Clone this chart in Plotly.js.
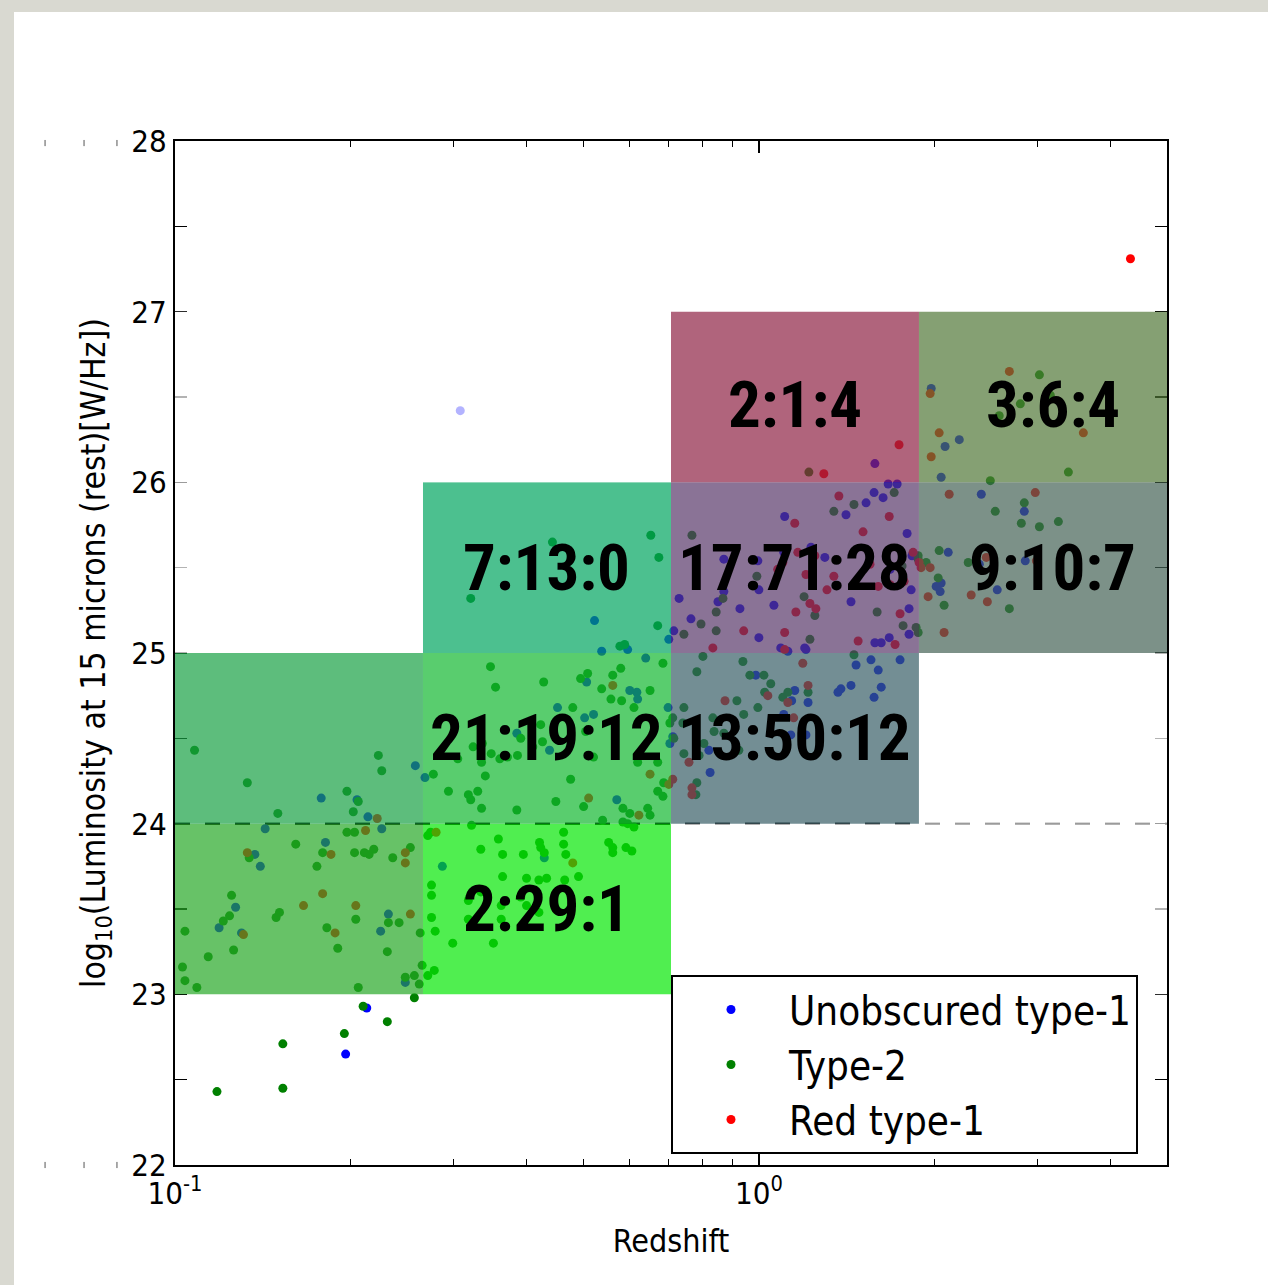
<!DOCTYPE html>
<html>
<head>
<meta charset="utf-8">
<script src="https://cdn.plot.ly/plotly-3.0.1.min.js"></script>
<style>
  html, body { margin: 0; padding: 0; background: #d9d9d1; width: 1268px; height: 1285px; overflow: hidden; }
  #chart { position: absolute; left: 14px; top: 12px; width: 1254px; height: 1273px; background: #fff; }
</style>
</head>
<body>
<div id="chart"></div>
<script>
// ---------------- data ----------------
const zUnobscured = [0.178,0.205,0.214,0.258,0.268,0.1427,0.226,0.181,0.137,0.140,0.127,0.119,0.130,0.232,0.225,0.248,0.213,0.196,
  0.523,0.701,0.596,0.538,0.640,0.507,0.601,0.618,0.620,0.699,0.452,0.503,0.521,0.385,0.438,0.571,0.704,0.429,0.287,0.308,
  1.580,1.665,1.725,1.575,1.632,1.526,1.410,1.794,1.107,1.228,1.297,1.103,0.996,1.000,0.871,1.678,1.829,1.823,0.871,0.851,0.730,
  0.928,1.061,1.438,1.808,0.765,0.715,1.000,1.198,1.090,1.121,1.204,1.580,1.620,1.672,1.808,
  0.988,1.467,1.556,1.745,1.601,1.620,1.438,1.382,1.366,1.575,1.152,1.138,1.214,1.103,1.134,1.204,0.821,0.712,0.825,
  1.973,2.204,2.084,2.052,2.404,2.848,2.110,2.385,2.859,2.012,2.052,2.044,2.560];
const lumUnobscured = [24.15,24.14,24.04,24.34,24.27,23.97,23.97,23.89,23.82,23.75,23.51,23.39,23.36,23.47,23.37,23.07,22.92,22.65,
  25.19,25.08,25.02,25.01,24.97,24.83,24.78,24.77,24.73,24.68,24.68,24.62,24.64,24.53,24.43,24.14,24.47,23.80,23.75,26.42,
  26.11,25.99,25.99,25.94,25.91,25.88,25.81,25.70,25.80,25.62,25.56,25.59,25.54,25.37,25.55,25.49,25.57,25.37,25.36,25.30,25.32,
  25.26,25.28,25.30,25.26,25.20,25.13,25.09,25.03,25.03,25.01,25.02,25.06,25.06,25.09,25.11,
  24.87,24.93,24.96,24.96,24.90,24.80,24.81,24.79,24.77,24.74,24.78,24.72,24.71,24.64,24.52,24.52,24.43,24.51,24.30,
  26.55,26.25,26.21,26.03,25.93,25.83,25.59,25.52,25.54,25.39,25.41,25.36,25.37];

const zType2 = [0.108,0.133,0.150,0.197,0.206,0.202,0.223,0.226,0.197,0.203,0.134,0.161,0.179,0.175,0.203,0.211,0.215,0.219,0.236,0.253,
  0.125,0.124,0.121,0.104,0.151,0.149,0.182,0.204,0.190,0.232,0.242,0.231,0.263,0.114,0.126,0.103,0.104,0.109,0.206,0.248,0.257,0.262,0.265,0.257,
  0.210,0.231,0.195,0.153,0.118,0.153,
  0.653,0.674,0.443,0.321,0.671,0.578,0.589,
  0.347,0.354,0.428,0.495,0.509,0.562,0.580,0.538,0.558,0.582,0.651,0.611,0.685,0.480,0.505,0.391,0.423,0.410,0.426,0.324,0.336,0.348,0.360,0.371,0.386,
  0.305,0.335,0.340,0.277,0.294,0.318,0.321,0.330,0.335,0.385,0.449,0.476,0.501,0.585,0.601,0.645,0.651,0.671,0.685,0.687,0.671,0.620,0.521,0.704,
  0.540,0.585,0.596,0.611,0.322,
  0.271,0.274,0.358,0.334,0.364,0.395,0.421,0.423,0.429,0.463,0.463,0.467,0.553,0.562,0.562,0.592,0.606,0.491,0.364,0.400,0.420,0.433,0.465,
  0.334,0.318,0.362,0.391,0.400,0.420,0.362,0.318,0.275,0.275,0.275,0.279,0.299,0.351,0.271,0.278,
  1.218,1.705,1.455,1.344,0.768,0.992,1.759,1.874,0.868,0.845,1.195,1.247,1.594,0.796,0.845,0.744,1.223,1.766,1.859,
  0.802,0.939,0.783,0.965,1.020,1.048,1.455,1.214,1.121,1.099,1.023,0.917,0.996,0.942,0.834,0.744,0.712,0.741,0.838,0.871,0.924,0.805,0.744,0.790,0.715,0.783,0.780,
  3.023,3.156,2.804,2.580,3.389,2.491,2.848,2.540,2.815,3.023,3.258,2.036,1.874,1.934,2.283,2.028,2.076,2.685,1.874];
const lumType2 = [24.43,24.24,24.06,24.19,24.13,24.07,24.40,24.31,23.95,23.95,23.80,23.88,23.83,23.75,23.83,23.83,23.82,23.85,23.80,23.86,
  23.58,23.46,23.43,23.37,23.48,23.45,23.39,23.44,23.27,23.42,23.42,23.25,23.36,23.22,23.26,23.16,23.08,23.04,23.04,23.10,23.11,23.06,23.17,22.98,
  22.93,22.84,22.77,22.71,22.43,22.45,
  25.69,25.56,25.65,25.32,25.16,25.04,25.05,
  24.92,24.80,24.83,24.85,24.88,24.87,24.91,24.79,24.73,24.72,24.78,24.68,24.94,24.68,24.54,24.50,24.58,24.45,24.48,24.45,24.47,24.41,24.38,24.39,24.40,
  24.38,24.36,24.28,24.29,24.19,24.17,24.14,24.19,24.09,24.08,24.13,24.26,24.10,24.09,24.06,24.09,24.05,24.19,24.16,24.24,24.36,24.36,24.39,24.59,
  24.02,24.01,24.00,23.98,23.99,
  23.93,23.95,23.91,23.85,23.82,23.82,23.89,23.86,23.83,23.95,23.88,23.82,23.89,23.86,23.83,23.86,23.84,23.69,23.69,23.68,23.67,23.68,23.67,
  23.60,23.55,23.52,23.57,23.52,23.48,23.44,23.44,23.64,23.58,23.45,23.37,23.30,23.30,23.11,23.14,
  26.06,25.94,25.87,25.83,25.69,25.45,25.51,25.57,25.32,25.24,25.33,25.22,25.24,25.17,25.13,25.11,25.08,25.16,25.15,
  24.98,24.95,24.89,24.87,24.87,24.82,24.99,24.77,24.77,24.74,24.77,24.72,24.68,24.64,24.62,24.68,24.62,24.59,24.54,24.53,24.43,24.47,24.41,24.40,24.50,24.24,24.17,
  26.63,26.51,26.46,26.39,26.06,26.01,25.88,25.83,25.76,25.74,25.77,25.60,25.55,25.53,25.53,25.44,25.28,25.26,25.12];

const zRed = [0.222,0.212,0.133,0.185,0.248,0.248,0.166,0.179,0.131,0.188,0.204,0.253,
  0.562,0.511,0.623,0.701,0.651,0.280,0.480,
  1.738,1.292,
  1.371,1.672,1.508,1.152,1.166,1.247,1.099,1.077,1.204,1.344,1.550,1.837,1.881,1.773,1.601,1.678,1.308,1.223,1.252,1.157,1.745,0.942,1.107,1.107,1.479,1.711,0.834,
  1.189,1.214,1.036,1.121,0.875,1.147,0.759,0.712,0.768,0.768,
  2.685,1.965,2.036,3.595,1.973,2.118,2.974,1.896,1.965,2.452,2.987,1.949,2.310,2.462,2.076,4.329];
const lumRed = [24.03,23.96,23.83,23.82,23.83,23.77,23.52,23.59,23.35,23.36,23.52,23.47,
  24.81,24.15,24.05,24.23,24.29,23.95,23.77,
  26.22,26.05,
  25.92,25.80,25.71,25.76,25.59,25.57,25.53,25.49,25.46,25.45,25.52,25.59,25.53,25.42,25.39,25.40,25.37,25.29,25.26,25.24,25.23,25.13,25.12,25.02,25.07,25.05,25.03,
  24.94,24.81,24.75,24.71,24.72,24.62,24.36,24.26,24.21,24.17,
  26.65,26.52,26.29,26.29,26.15,25.93,25.94,25.50,25.50,25.56,25.54,25.33,25.34,25.30,25.12,27.31];

// bins: redshift edges (log-spaced 0.1..5) and luminosity edges
const zEdges = [0.1, 0.2659, 0.7071, 1.880, 5.0];
const lumEdges = [23, 24, 25, 26, 27];
// ratio labels per bin [zBin][lumBin]; '' = no label
const binLabels = [
  ['', '', '', ''],
  ['2:29:1', '21:19:12', '7:13:0', ''],
  ['', '13:50:12', '17:71:28', '2:1:4'],
  ['', '', '9:10:7', '3:6:4']
];
const thresholdLum = 24;
const xTickVals = [0.1, 1];
const xTickText = ['10<sup>-1</sup>', '10<sup>0</sup>'];
const xMinorVals = [0.2,0.3,0.4,0.5,0.6,0.7,0.8,0.9,2,3,4,5];
const yTickVals = [22,22.5,23,23.5,24,24.5,25,25.5,26,26.5,27,27.5,28];
const yTickText = ['22','','23','','24','','25','','26','','27','','28'];

// ---------------- styles ----------------
const binColors = [
  ['rgb(38,168,38)', 'rgb(24,161,69)', '#ffffff', '#ffffff'],
  ['rgb(5,231,5)', 'rgb(19,184,48)', 'rgb(0,165,95)', '#ffffff'],
  ['#ffffff', 'rgb(56,94,102)', 'rgb(89,55,105)', 'rgb(142,34,69)'],
  ['#ffffff', '#ffffff', 'rgb(68,99,85)', 'rgb(81,119,55)']
];
const FONT = '"DejaVu Sans Condensed", "DejaVu Sans", sans-serif';
const LABELFONT = '"Liberation Sans Narrow", "Roboto Condensed", "DejaVu Sans Condensed", sans-serif';

const traces = [
  { x: [zEdges[0], zEdges[4]], y: [thresholdLum, thresholdLum], mode: 'lines', showlegend: false, hoverinfo: 'skip',
    line: { color: '#000', width: 2.5, dash: '15px,15px' } },
  { x: zUnobscured, y: lumUnobscured, mode: 'markers', name: 'Unobscured type-1',
    marker: { color: '#0000ff', size: 9, line: { width: 0 } } },
  { x: zType2, y: lumType2, mode: 'markers', name: 'Type-2',
    marker: { color: '#008000', size: 9, line: { width: 0 } } },
  { x: zRed, y: lumRed, mode: 'markers', name: 'Red type-1',
    marker: { color: '#ff0000', size: 9, line: { width: 0 } } }
];

const shapes = [];
const annotations = [];
for (let i = 0; i < 4; i++) {
  for (let j = 0; j < 4; j++) {
    shapes.push({ type: 'rect', xref: 'x', yref: 'y', layer: 'above',
      x0: zEdges[i], x1: zEdges[i+1], y0: lumEdges[j], y1: lumEdges[j+1],
      fillcolor: binColors[i][j], opacity: 0.7, line: { width: 0 } });
    if (binLabels[i][j]) {
      annotations.push({ xref: 'x', yref: 'y', x: Math.log10(Math.sqrt(zEdges[i]*zEdges[i+1])),
        y: (lumEdges[j] + lumEdges[j+1]) / 2, text: binLabels[i][j], showarrow: false,
        xanchor: 'center', yanchor: 'middle', xshift: i === 3 ? 10 : 0, yshift: j === 3 ? -8 : 0,
        font: { family: LABELFONT, size: 65, color: '#000', weight: 'bold' } });
    }
  }
}
// faint tick-like marks left of the y axis (as in the reference)
[-0.131, -0.0917, -0.0585].forEach(px => {
  [0.998, 0.0].forEach(py => {
    shapes.push({ type: 'line', xref: 'paper', yref: 'paper', x0: px, x1: px, y0: py - 0.003, y1: py + 0.003,
      line: { color: '#555', width: 1 } });
  });
});

const layout = {
  width: 1254, height: 1273,
  margin: { l: 161, r: 101, t: 129, b: 120 },
  paper_bgcolor: '#ffffff', plot_bgcolor: '#ffffff',
  font: { family: FONT, size: 31, color: '#000' },
  showlegend: true,
  legend: { x: 0.5, y: 0.1855, xanchor: 'left', yanchor: 'top', bgcolor: '#ffffff',
    bordercolor: '#000', borderwidth: 2, font: { family: FONT, size: 40, color: '#000' },
    itemwidth: 106, tracegroupgap: 0 },
  xaxis: { type: 'log', range: [-1, Math.log10(5)], tickvals: xTickVals, ticktext: xTickText,
    ticks: 'inside', ticklen: 12, tickwidth: 1.5, tickcolor: '#000', mirror: 'allticks',
    showline: true, linewidth: 2, linecolor: '#000', showgrid: false, zeroline: false,
    tickfont: { family: FONT, size: 31 },
    minor: { tickvals: xMinorVals, ticks: 'inside', ticklen: 6, tickwidth: 1.2, tickcolor: '#000', showgrid: false },
    title: { text: 'Redshift', font: { family: FONT, size: 32 }, standoff: 19 } },
  yaxis: { range: [22, 28], tickvals: yTickVals, ticktext: yTickText,
    ticks: 'inside', ticklen: 12, tickwidth: 1.5, tickcolor: '#000', mirror: 'allticks',
    showline: true, linewidth: 2, linecolor: '#000', showgrid: false, zeroline: false,
    tickfont: { family: FONT, size: 31 },
    title: { text: 'log<sub>10</sub>(Luminosity at 15 microns (rest)[W/Hz])', font: { family: FONT, size: 33.5 }, standoff: 16 } },
  shapes: shapes,
  annotations: annotations
};

Plotly.newPlot('chart', traces, layout, { displayModeBar: false, staticPlot: true });
</script>
</body>
</html>
